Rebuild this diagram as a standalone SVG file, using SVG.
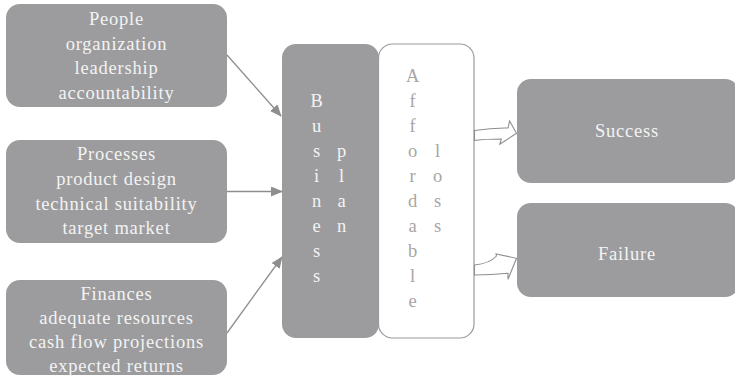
<svg xmlns="http://www.w3.org/2000/svg" width="735" height="384" viewBox="0 0 735 384">
  <defs>
    <style>
      .box { fill: #9c9c9e; }
      .open { fill: #ffffff; stroke: #9a9a9a; stroke-width: 1.2; }
      .lbl { font-family: "Liberation Serif", "Times New Roman", serif; font-size: 18.5px; fill: #f3f3f3; text-anchor: middle; letter-spacing: 0.8px; }
      .dim { fill: #a6a6a6; }
      .link { stroke: #8e8e8e; stroke-width: 1.3; fill: none; }
      .block { fill: #ffffff; stroke: #8e8e8e; stroke-width: 1.1; stroke-linejoin: miter; }
    </style>
    <marker id="head" markerWidth="12" markerHeight="10" refX="11" refY="5" orient="auto" markerUnits="userSpaceOnUse">
      <path d="M0,0 L12,5 L0,10 Z" fill="#8e8e8e"/>
    </marker>
  </defs>

  <g id="people">
    <rect class="box" x="6" y="4" width="221" height="103" rx="14"/>
    <text class="lbl" x="116.5" y="25">People</text>
    <text class="lbl" x="116.5" y="49.5">organization</text>
    <text class="lbl" x="116.5" y="74">leadership</text>
    <text class="lbl" x="116.5" y="99">accountability</text>
  </g>

  <g id="processes">
    <rect class="box" x="6" y="140" width="221" height="103" rx="14"/>
    <text class="lbl" x="116.5" y="159.5">Processes</text>
    <text class="lbl" x="116.5" y="184.5">product design</text>
    <text class="lbl" x="116.5" y="209.5">technical suitability</text>
    <text class="lbl" x="116.5" y="234">target market</text>
  </g>

  <g id="finances">
    <rect class="box" x="6" y="280" width="221" height="95" rx="14"/>
    <text class="lbl" x="116.5" y="300">Finances</text>
    <text class="lbl" x="116.5" y="324">adequate resources</text>
    <text class="lbl" x="116.5" y="348">cash flow projections</text>
    <text class="lbl" x="116.5" y="371.5">expected returns</text>
  </g>

  <g id="business-plan">
    <rect class="box" x="282" y="44" width="97" height="294" rx="14"/>
    <g class="lbl">
      <text x="317" y="107">B</text>
      <text x="317" y="132">u</text>
      <text x="317" y="157">s</text>
      <text x="317" y="182">i</text>
      <text x="317" y="207">n</text>
      <text x="317" y="232">e</text>
      <text x="317" y="257">s</text>
      <text x="317" y="282">s</text>
      <text x="342" y="157">p</text>
      <text x="342" y="182">l</text>
      <text x="342" y="207">a</text>
      <text x="342" y="232">n</text>
    </g>
  </g>

  <g id="affordable-loss">
    <rect class="open" x="378.5" y="44" width="95.5" height="294" rx="14"/>
    <g class="lbl dim">
      <text x="413" y="82">A</text>
      <text x="413" y="107">f</text>
      <text x="413" y="132">f</text>
      <text x="413" y="157">o</text>
      <text x="413" y="182">r</text>
      <text x="413" y="207">d</text>
      <text x="413" y="232">a</text>
      <text x="413" y="257">b</text>
      <text x="413" y="282">l</text>
      <text x="413" y="307">e</text>
      <text x="438" y="157">l</text>
      <text x="438" y="182">o</text>
      <text x="438" y="207">s</text>
      <text x="438" y="232">s</text>
    </g>
  </g>

  <g id="success">
    <rect class="box" x="517" y="79" width="222" height="104" rx="14"/>
    <text class="lbl" x="627" y="137">Success</text>
  </g>

  <g id="failure">
    <rect class="box" x="517" y="203" width="222" height="94" rx="14"/>
    <text class="lbl" x="627" y="260">Failure</text>
  </g>

  <g id="connectors">
    <line class="link" x1="227" y1="55" x2="281" y2="116" marker-end="url(#head)"/>
    <line class="link" x1="227" y1="191.5" x2="282" y2="191.5" marker-end="url(#head)"/>
    <line class="link" x1="227" y1="333" x2="282" y2="257" marker-end="url(#head)"/>
    <path class="block" d="M474.5,130.5 C487,128.5 498,127.8 508,128 L509.6,121 L516.5,133.3 L499.8,144.3 L501.3,139 C491,139 482,139.5 474.5,140.5 Z"/>
    <path class="block" d="M474.5,265 C485,264 492,261 496.5,256 L496,254 L516.5,258.3 L508,279.3 L508,273.3 C496,274.5 485,275 474.5,275 Z"/>
  </g>
</svg>
